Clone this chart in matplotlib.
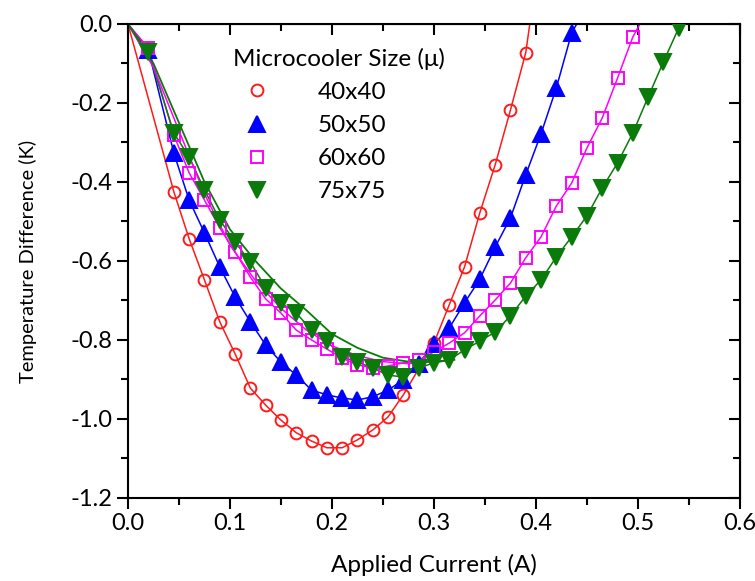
import matplotlib
matplotlib.use("Agg")
import matplotlib.pyplot as plt
from matplotlib.ticker import MultipleLocator

plt.rcParams['font.family'] = ['Lato', 'DejaVu Sans']
plt.rcParams['font.size'] = 17.5

# measured points, 0.015 A steps after the first reading
x_40 = [0.045, 0.06, 0.075, 0.09, 0.105, 0.12, 0.135, 0.15, 0.165, 0.18, 0.195, 0.21,
        0.225, 0.24, 0.255, 0.27, 0.30, 0.315, 0.33, 0.345, 0.36, 0.375, 0.39]
y_40 = [-0.425, -0.544, -0.648, -0.754, -0.835, -0.922, -0.965, -1.003, -1.035, -1.056, -1.073, -1.073,
        -1.053, -1.028, -0.995, -0.939, -0.808, -0.711, -0.615, -0.478, -0.357, -0.218, -0.073]

x_50 = [0.02, 0.045, 0.06, 0.075, 0.09, 0.105, 0.12, 0.135, 0.15, 0.165, 0.18, 0.195, 0.21,
        0.225, 0.24, 0.255, 0.27, 0.285, 0.30, 0.315, 0.33, 0.345, 0.36, 0.375, 0.39, 0.405,
        0.42, 0.435]
y_50 = [-0.066, -0.327, -0.446, -0.529, -0.615, -0.691, -0.754, -0.813, -0.856, -0.889, -0.927, -0.939, -0.947,
        -0.952, -0.944, -0.927, -0.901, -0.86, -0.810, -0.770, -0.706, -0.646, -0.565, -0.491, -0.382, -0.278,
        -0.162, -0.023]

x_60 = [0.02, 0.045, 0.06, 0.075, 0.09, 0.105, 0.12, 0.135, 0.15, 0.165, 0.18, 0.195, 0.21,
        0.225, 0.24, 0.255, 0.27, 0.285, 0.30, 0.315, 0.33, 0.345, 0.36, 0.375, 0.39, 0.405,
        0.42, 0.435, 0.45, 0.465, 0.48, 0.495]
y_60 = [-0.061, -0.281, -0.377, -0.446, -0.516, -0.577, -0.641, -0.696, -0.732, -0.775, -0.800, -0.823, -0.846,
        -0.863, -0.871, -0.866, -0.858, -0.851, -0.830, -0.808, -0.782, -0.739, -0.699, -0.656, -0.592, -0.539,
        -0.461, -0.403, -0.314, -0.238, -0.137, -0.033]

x_75 = [0.02, 0.045, 0.06, 0.075, 0.09, 0.105, 0.12, 0.135, 0.15, 0.165, 0.18, 0.195, 0.21,
        0.225, 0.24, 0.255, 0.27, 0.285, 0.30, 0.315, 0.33, 0.345, 0.36, 0.375, 0.39, 0.405,
        0.42, 0.435, 0.45, 0.465, 0.48, 0.495, 0.51, 0.525, 0.54]
y_75 = [-0.071, -0.276, -0.337, -0.420, -0.496, -0.552, -0.603, -0.668, -0.706, -0.732, -0.775, -0.803, -0.843,
        -0.856, -0.871, -0.889, -0.894, -0.871, -0.858, -0.851, -0.825, -0.803, -0.780, -0.739, -0.689, -0.648,
        -0.590, -0.539, -0.486, -0.415, -0.352, -0.276, -0.185, -0.096, -0.010]

# model curves (up to 0.32 A)
x_fit = [0, 0.025, 0.05, 0.075, 0.1, 0.125, 0.15, 0.175, 0.2, 0.225, 0.25, 0.275, 0.3, 0.32]
fit_60 = [0, -0.11, -0.27, -0.43, -0.56, -0.65, -0.72, -0.775, -0.815, -0.84, -0.855, -0.86, -0.855, -0.85]
fit_75 = [0, -0.10, -0.25, -0.40, -0.52, -0.60, -0.67, -0.725, -0.785, -0.82, -0.845, -0.855, -0.855, -0.85]

red = '#ff1a1a'
blue = '#0000ff'
pink = '#ff00ff'
green = '#0a7a0a'

fig = plt.figure(figsize=(7.55, 5.81), dpi=100)
ax = fig.add_axes([0.1695, 0.143, 0.8105, 0.8157])

series = [
    (x_40, y_40, 0.394, red, 'o', 'none', 8.5, '40x40'),
    (x_50, y_50, 0.44, blue, '^', blue, 11, '50x50'),
    (x_60, y_60, 0.502, pink, 's', 'none', 8, '60x60'),
    (x_75, y_75, 0.541, green, 'v', green, 11, '75x75'),
]
handles = []
for xs, ys, x_end, c, m, fc, ms, lab in series:
    ax.plot([0] + xs + [x_end], [0] + ys + [0], color=c, lw=1.1, zorder=2)
    h, = ax.plot(xs, ys, ls='none', marker=m, mfc=fc, mec=c, mew=1.4, ms=ms, zorder=3, label=lab)
    handles.append(h)

ax.plot(x_fit, fit_60, color=pink, lw=1.1, zorder=2)
ax.plot(x_fit, fit_75, color=green, lw=1.3, zorder=2)

ax.set_xlim(0, 0.6)
ax.set_ylim(-1.2, 0)
ax.xaxis.set_major_locator(MultipleLocator(0.1))
ax.xaxis.set_minor_locator(MultipleLocator(0.05))
ax.yaxis.set_major_locator(MultipleLocator(0.2))
ax.yaxis.set_minor_locator(MultipleLocator(0.1))
ax.xaxis.set_major_formatter(lambda v, p: f'{v:.1f}')
ax.yaxis.set_major_formatter(lambda v, p: f'{v:.1f}'.replace('-0.0', '0.0'))
ax.tick_params(which='major', direction='out', length=8, width=1.5, labelsize=17, pad=3)
ax.tick_params(which='minor', direction='out', length=5, width=1.5)
for s in ax.spines.values():
    s.set_linewidth(1.5)

# mirrored ticks on top and right point inward
top = ax.secondary_xaxis('top')
top.xaxis.set_major_locator(MultipleLocator(0.1))
top.xaxis.set_minor_locator(MultipleLocator(0.05))
top.tick_params(which='major', direction='in', length=8, width=1.5, labeltop=False)
top.tick_params(which='minor', direction='in', length=5, width=1.5)
right = ax.secondary_yaxis('right')
right.yaxis.set_major_locator(MultipleLocator(0.2))
right.yaxis.set_minor_locator(MultipleLocator(0.1))
right.tick_params(which='major', direction='in', length=8, width=1.5, labelright=False)
right.tick_params(which='minor', direction='in', length=5, width=1.5)

ax.set_xlabel('Applied Current (A)', fontsize=17.5, labelpad=14)
ax.set_ylabel('Temperature Difference (K)', fontsize=14.5, labelpad=24)

leg = ax.legend(handles=handles, title='Microcooler Size (\u03bc)', loc='upper left',
                bbox_to_anchor=(0.1716, 0.95), frameon=False, fontsize=17.5, title_fontsize=17.5,
                handlelength=2.0, handletextpad=1.5, labelspacing=0.5, alignment='left',
                borderpad=0, borderaxespad=0)

fig.savefig('out.png', dpi=100)
